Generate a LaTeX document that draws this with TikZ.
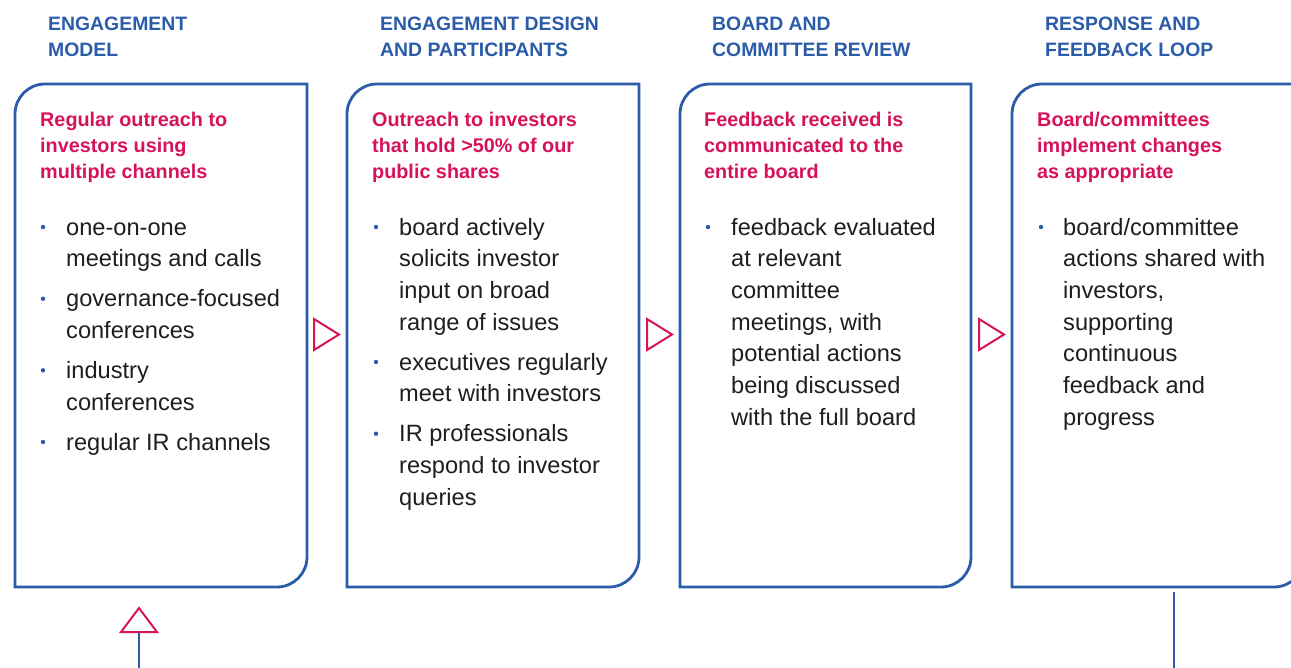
\documentclass[tikz,border=0pt]{standalone}
\usepackage{fontspec}
\setmainfont{Liberation Sans}
\definecolor{hblue}{HTML}{2B5CA9}
\definecolor{hpink}{HTML}{D6125B}
\definecolor{btext}{HTML}{1E1E1E}
\newcommand\stackl[1]{\vtop{\let\\\cr\lineskiplimit=-100pt\halign{##\hfil\cr#1\crcr}}}
\newcommand\panel[2]{\draw[boxline] (#1,587) -- (#1,114) .. controls (#1,97.43) and ({#1+13.43},84) .. ({#1+30},84) -- (#2,84) -- (#2,557) .. controls (#2,573.57) and ({#2-13.43},587) .. ({#2-30},587) -- cycle;}
\tikzset{
 boxline/.style={draw=hblue, line width=2.8pt},
 head/.style={inner sep=0, anchor=base west, text=hblue, font=\fontsize{19.4}{26}\selectfont\bfseries},
 lead/.style={inner sep=0, anchor=base west, text=hpink, font=\fontsize{19.8}{26}\selectfont\bfseries},
 item/.style={inner sep=0, anchor=base west, text=btext, font=\fontsize{23.6}{31.7}\selectfont},
 dot/.style={circle, fill=hblue, inner sep=0, minimum size=4.4pt},
 tri/.style={draw=hpink, line width=2pt, line join=miter},
 link/.style={draw=hblue, line width=2.2pt}
}
\begin{document}
\begin{tikzpicture}[x=1pt,y=-1pt]
\useasboundingbox (0,0) rectangle (1291,667);
\clip (0,0) rectangle (1291,667);
% headings
\node[head] (h1) at (48,30) {\stackl{ENGAGEMENT\\MODEL}};
\node[head] (h2) at (380,30) {\stackl{ENGAGEMENT DESIGN\\AND PARTICIPANTS}};
\node[head] (h3) at (712,30) {\stackl{BOARD AND\\COMMITTEE REVIEW}};
\node[head] (h4) at (1045,30) {\stackl{RESPONSE AND\\FEEDBACK LOOP}};
% panels
\panel{15}{307}
\panel{347}{639}
\panel{680}{971}
\panel{1012}{1304}
% leads
\node[lead] (l1) at (40,126.5) {\stackl{Regular outreach to\\investors using\\multiple channels}};
\node[lead] (l2) at (372,126.5) {\stackl{Outreach to investors\\that hold >50\% of our\\public shares}};
\node[lead] (l3) at (704,126.5) {\stackl{Feedback received is\\communicated to the\\entire board}};
\node[lead] (l4) at (1037,126.5) {\stackl{Board/committees\\implement changes\\as appropriate}};
% column 1
\node[dot] (d11) at (43,227) {};
\node[item] (i11) at (66,235) {\stackl{one-on-one\\meetings and calls}};
\node[dot] (d12) at (43,298.7) {};
\node[item] (i12) at (66,306.7) {\stackl{governance-focused\\conferences}};
\node[dot] (d13) at (43,370.3) {};
\node[item] (i13) at (66,378.3) {\stackl{industry\\conferences}};
\node[dot] (d14) at (43,442) {};
\node[item] (i14) at (66,450) {\stackl{regular IR channels}};
% column 2
\node[dot] (d21) at (376,227) {};
\node[item] (i21) at (399,235) {\stackl{board actively\\solicits investor\\input on broad\\range of issues}};
\node[dot] (d22) at (376,362) {};
\node[item] (i22) at (399,370) {\stackl{executives regularly\\meet with investors}};
\node[dot] (d23) at (376,433.7) {};
\node[item] (i23) at (399,441.7) {\stackl{IR professionals\\respond to investor\\queries}};
% column 3
\node[dot] (d31) at (708,227) {};
\node[item] (i31) at (731,235) {\stackl{feedback evaluated\\at relevant\\committee\\meetings, with\\potential actions\\being discussed\\with the full board}};
% column 4
\node[dot] (d41) at (1041,227) {};
\node[item] (i41) at (1063,235) {\stackl{board/committee\\actions shared with\\investors,\\supporting\\continuous\\feedback and\\progress}};
% arrows between panels
\draw[tri] (314,319) -- (314,350) -- (339,334.5) -- cycle;
\draw[tri] (647,319) -- (647,350) -- (672,334.5) -- cycle;
\draw[tri] (979,319) -- (979,350) -- (1004,334.5) -- cycle;
% feedback loop ends
\draw[tri] (139,608) -- (157,632) -- (121,632) -- cycle;
\coordinate (upbase) at (139,633);
\coordinate (upend) at (139,670);
\draw[link] (upbase) -- (upend);
\coordinate (rtop) at (1174,592);
\coordinate (rend) at (1174,670);
\draw[link] (rtop) -- (rend);
\end{tikzpicture}
\end{document}
